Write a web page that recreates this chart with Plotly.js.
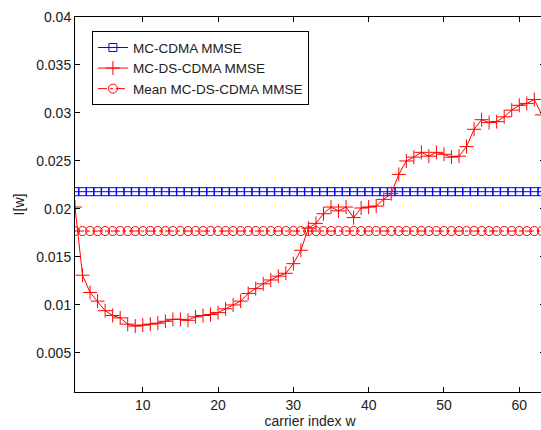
<!DOCTYPE html>
<html>
<head>
<meta charset="utf-8">
<script src="https://cdn.plot.ly/plotly-3.0.1.min.js"></script>
<style>
html, body { margin: 0; padding: 0; overflow: hidden; background: #fff; }
#chart { width: 545px; height: 430px; }
</style>
</head>
<body>
<div id="chart"></div>
<script>
const carrierIndex = [];
for (let w = 1; w <= 63; w++) carrierIndex.push(w);

const mcDsCdma = [
  0.0202, 0.0131, 0.0113, 0.0104, 0.0094, 0.0089, 0.00865, 0.0080, 0.0078, 0.0079,
  0.0080, 0.0081, 0.0083, 0.0085, 0.0085, 0.0084, 0.00876, 0.0089, 0.0090, 0.0092,
  0.0096, 0.0100, 0.0104, 0.0112, 0.0117, 0.0122, 0.0126, 0.0130, 0.0133, 0.0143,
  0.0157, 0.0180, 0.0185, 0.0195, 0.0202, 0.0198, 0.0202, 0.0191, 0.0201, 0.0202,
  0.0203, 0.0210, 0.0216, 0.0236, 0.0250, 0.0254, 0.0259, 0.0255, 0.0259, 0.0257,
  0.0254, 0.0255, 0.0265, 0.0283, 0.0293, 0.0290, 0.0291, 0.0296, 0.0303, 0.0308,
  0.0310, 0.0314, 0.0298
];
const mcCdmaLevel = 0.0218;
const meanMcDsLevel = 0.0177;
const mcCdma = carrierIndex.map(() => mcCdmaLevel);
const meanMcDs = carrierIndex.map(() => meanMcDsLevel);

const yTickVals = [0.005, 0.01, 0.015, 0.02, 0.025, 0.03, 0.035, 0.04];
const yTickText = ['0.005', '0.01', '0.015', '0.02', '0.025', '0.03', '0.035', '0.04'];
const xTickVals = [10, 20, 30, 40, 50, 60];

const traces = [
  {
    x: carrierIndex, y: mcCdma, name: 'MC-CDMA MMSE', type: 'scatter', mode: 'lines+markers',
    line: { color: '#0000ff', width: 1 },
    marker: { symbol: 'square-open', size: 8, color: '#0000ff', line: { color: '#0000ff', width: 1 } }
  },
  {
    x: carrierIndex, y: mcDsCdma, name: 'MC-DS-CDMA MMSE', type: 'scatter', mode: 'lines+markers',
    line: { color: '#ff0000', width: 1 },
    marker: { symbol: 'cross-thin-open', size: 10, color: '#ff0000', line: { color: '#ff0000', width: 1 } }
  },
  {
    x: carrierIndex, y: meanMcDs, name: 'Mean MC-DS-CDMA MMSE', type: 'scatter', mode: 'lines+markers',
    line: { color: '#ff0000', width: 1, dash: 'dashdot' },
    marker: { symbol: 'circle-open', size: 9, color: '#ff0000', line: { color: '#ff0000', width: 1 } }
  }
];

const axisCommon = {
  showgrid: false, zeroline: false, showline: true, linecolor: '#000', linewidth: 1,
  mirror: 'ticks', ticks: 'inside', ticklen: 5, tickcolor: '#000', tickwidth: 1,
  tickfont: { family: 'Liberation Sans, Arial, sans-serif', size: 14, color: '#222' }
};

const layout = {
  width: 545, height: 430,
  margin: { l: 75, r: 0, t: 17, b: 38 },
  paper_bgcolor: '#fff', plot_bgcolor: '#fff',
  showlegend: true,
  xaxis: Object.assign({}, axisCommon, {
    range: [1, 63.42], tickvals: xTickVals, automargin: false,
    title: { text: 'carrier index w', standoff: 4, font: { family: 'Liberation Sans, Arial, sans-serif', size: 14, color: '#222' } }
  }),
  yaxis: Object.assign({}, axisCommon, {
    range: [0.00093, 0.04], tickvals: yTickVals, ticktext: yTickText, automargin: false,
    title: { text: 'I[w]', standoff: 8, font: { family: 'Liberation Sans, Arial, sans-serif', size: 14, color: '#222' } }
  }),
  legend: {
    x: 0.036, y: 0.962, xanchor: 'left', yanchor: 'top',
    bgcolor: '#fff', bordercolor: '#000', borderwidth: 1,
    font: { family: 'Liberation Sans, Arial, sans-serif', size: 13.5, color: '#222' },
    itemwidth: 30, tracegroupgap: 0
  }
};

Plotly.newPlot('chart', traces, layout, { displayModeBar: false, staticPlot: true });
</script>
</body>
</html>
